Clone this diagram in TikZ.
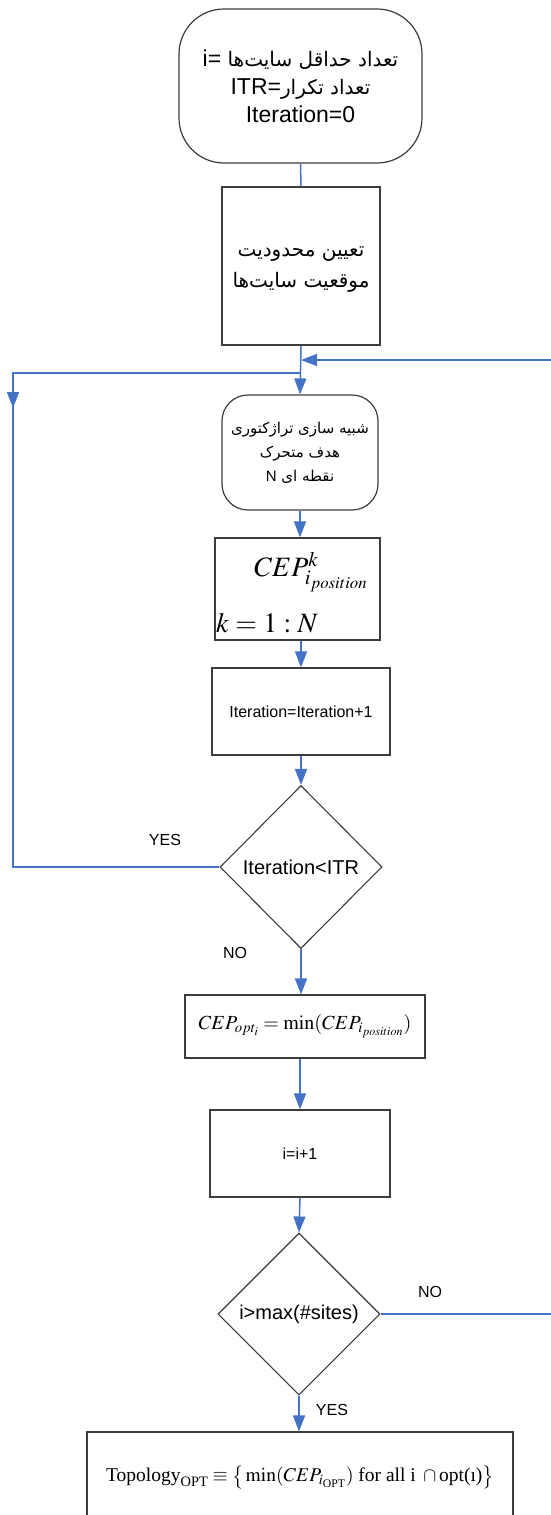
\documentclass[tikz,border=0pt]{standalone}
\usepackage{amsmath}
\usepackage{mathptmx}
\usepackage{fontspec}
\setmainfont{Liberation Serif}
\newfontfamily\lsans{Liberation Sans}
\newfontfamily\farsi[Script=Arabic]{DejaVu Sans}
\TeXXeTstate=1
\usetikzlibrary{arrows.meta,shapes.geometric}
\definecolor{linec}{RGB}{68,114,196}
\definecolor{boxc}{RGB}{60,60,60}
\tikzset{
  boxnode/.style={draw=boxc, line width=1.2pt, rectangle, inner sep=0pt, align=center},
  roundnode/.style={boxnode, rounded corners=#1},
  decnode/.style={draw=boxc, line width=1.1pt, diamond, aspect=1, inner sep=0pt,
     minimum width=162, minimum height=163, font=\lsans\fontsize{20}{24}\selectfont},
  conn/.style={draw=linec, line width=1.5pt},
  arr/.style={conn, -{Triangle[width=12pt,length=16pt]}},
  lbl/.style={font=\lsans\fontsize{16}{19}\selectfont, inner sep=0pt},
  txt/.style={inner sep=0pt}
}
\begin{document}
\begin{tikzpicture}[x=1pt,y=-1pt]
\useasboundingbox (0,0) rectangle (551,1515);
\begin{scope}
\clip (0,0) rectangle (551,1515);
% nodes
\node[roundnode=45, minimum width=243, minimum height=154,
      font=\lsans\fontsize{23}{28}\selectfont] (n1) at (300.5,86)
  {i=\ {\farsi\fontsize{20}{28}\selectfont\beginR تعداد حداقل سایت^^^^200cها\endR}\\
   ITR={\farsi\fontsize{20}{28}\selectfont\beginR تعداد تکرار\endR}\\
   Iteration=0};
\node[boxnode, minimum width=158, minimum height=158] (n2) at (301,266) {};
\node[txt, align=center, font=\farsi\fontsize{20}{31}\selectfont] (t2) at (301,270)
  {\beginR تعیین محدودیت\endR\\ \beginR موقعیت سایت^^^^200cها\endR};
\node[roundnode=26, minimum width=156, minimum height=115,
      font=\farsi\fontsize{15}{24}\selectfont] (n3) at (300,452.5)
  {\beginR شبیه سازی تراژکتوری\endR\\ \beginR هدف متحرک\endR\\
   {\lsans N} \beginR نقطه ای\endR};
\node[boxnode, minimum width=165, minimum height=102] (n4) at (297.5,589) {};
\node[txt, font=\fontsize{28}{32}\selectfont] (f1) at (311,572) {$CEP^{k}_{i_{position}}$};
\node[txt, anchor=base west, font=\fontsize{28}{32}\selectfont] (f2) at (216,632) {$k=1:N$};
\node[boxnode, minimum width=178, minimum height=87,
      font=\lsans\fontsize{16}{19}\selectfont] (n5) at (301,711.5) {Iteration=Iteration+1};
\node[decnode] (d1) at (301,867) {Iteration<ITR};
\node[boxnode, minimum width=240, minimum height=63,
      font=\fontsize{20}{24}\selectfont] (n6) at (305,1026.5)
  {$CEP_{opt_{i}}=\min(CEP_{i_{position}})$};
\node[boxnode, minimum width=180, minimum height=87,
      font=\lsans\fontsize{16}{19}\selectfont] (n7) at (300,1153.5) {i=i+1};
\node[decnode, minimum height=162] (d2) at (299,1314) {i>max(\#sites)};
\node[boxnode, minimum width=426, minimum height=90,
      font=\fontsize{19.5}{24}\selectfont] (n8) at (300,1477)
  {$\text{Topology}_{\text{OPT}}\equiv\big\{\min(CEP_{i_{\text{OPT}}})\text{ for all i }\cap\text{opt(\i)}\big\}$};
% labels
\node[lbl] (yes1) at (165,840) {YES};
\node[lbl] (no1) at (235,953) {NO};
\node[lbl] (no2) at (430,1292) {NO};
\node[lbl] (yes2) at (332,1410) {YES};
% helper coordinates
\coordinate (yr) at (0,360);
\coordinate (yl) at (0,373);
\coordinate (rx) at (565,0);
\coordinate (lx) at (13,0);
\coordinate (jr) at (n2.south |- yr);
\coordinate (jl) at (n2.south |- yl);
\coordinate (la) at (13,385);
\coordinate (lb) at (13,408);
% connectors
\draw[conn] (n1.south) -- (n2.north);
\draw[arr] (n2.south) -- (n3.north);
\draw[arr] (n3.south) -- (n4.north -| n3.south);
\draw[arr] (n4.south -| n5.north) -- (n5.north);
\draw[arr] (n5.south) -- (d1.north);
\draw[arr] (d1.south) -- (d1.south |- n6.north);
\draw[arr] (n6.south -| n7.north) -- (n7.north);
\draw[arr] (n7.south) -- (d2.north);
\draw[arr] (d2.south) -- (d2.south |- n8.north);
\draw[conn] (d1.west) -- (d1.west -| lx) |- (jl);
\draw[arr] (la) -- (lb);
\draw[arr] (d2.east) -- (d2.east -| rx) |- (jr);
\end{scope}
\end{tikzpicture}
\end{document}
